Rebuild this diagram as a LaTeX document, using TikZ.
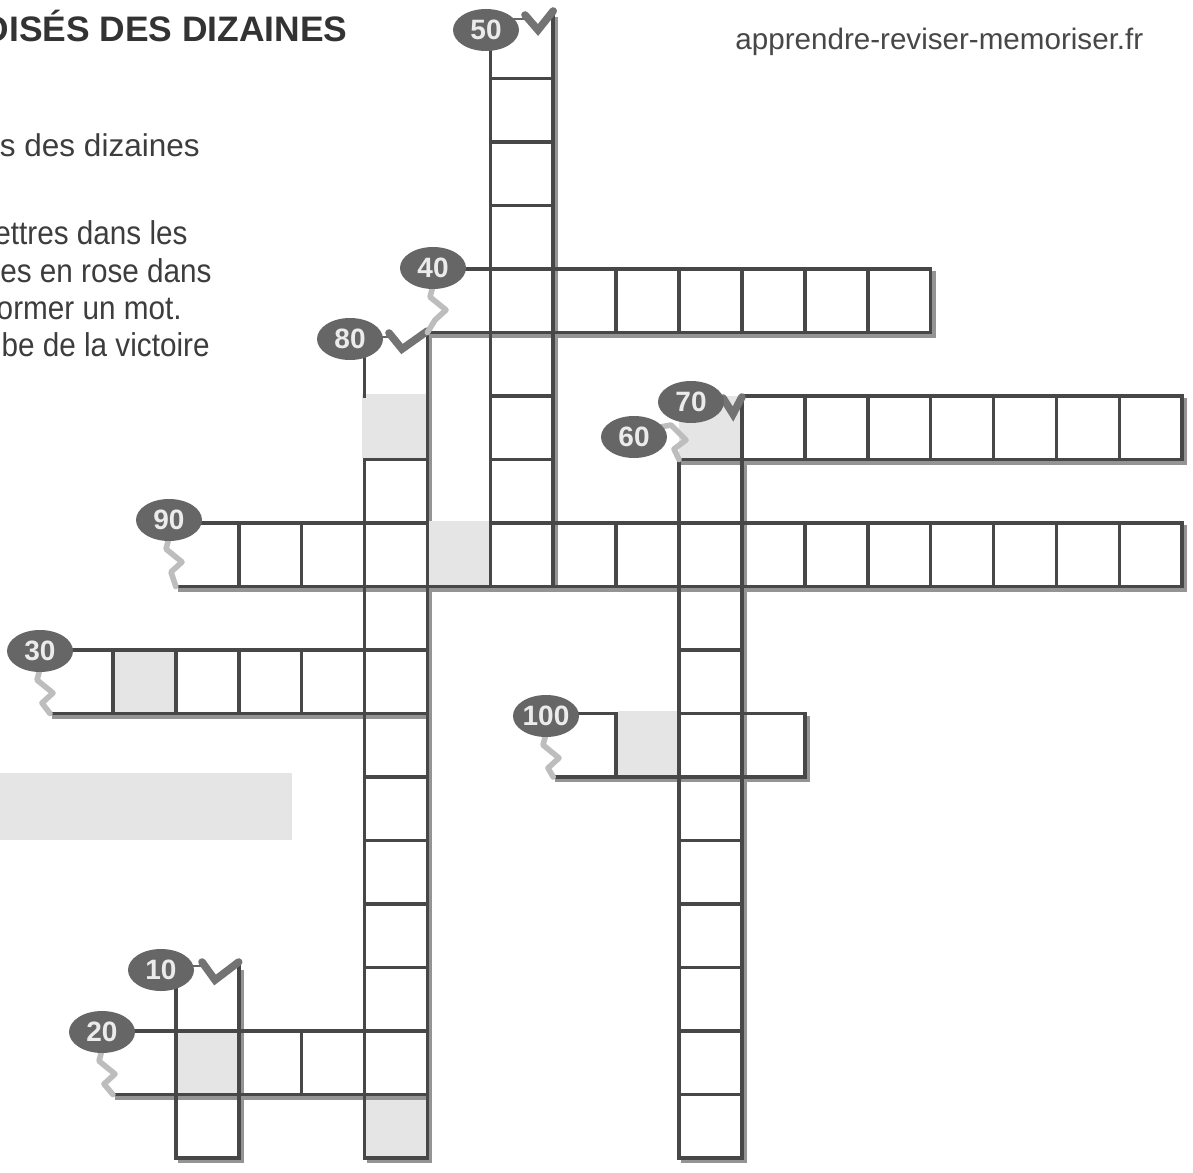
\documentclass[tikz,border=0pt]{standalone}
\usepackage{fontspec}
\setmainfont{Liberation Sans}
\newfontfamily\narrowsans[FakeStretch=0.9]{Liberation Sans}
\usetikzlibrary{shapes.geometric}
\tikzset{
  gl/.style={line width=1.8pt, draw=black!72, line cap=rect},
  shd/.style={line width=3pt, draw=black!42},
  bub/.style={ellipse, fill=black!60, minimum width=33pt, minimum height=21pt, inner sep=0pt, text=black!8, font=\fontsize{14}{14}\selectfont\bfseries},
  zz/.style={line width=2.8pt, draw=black!26, line join=round, line cap=round},
  vv/.style={line width=3.8pt, draw=black!55, line join=miter, line cap=round},
  tl/.style={line width=1.2pt, draw=black!60},
  pk/.style={fill=black!10},
  txt/.style={inner sep=0pt, text=black!76},
  bodytxt/.style={txt, anchor=base east, font=\narrowsans\fontsize{16.5}{19}\selectfont},
}
\begin{document}
\begin{tikzpicture}[x=0.5pt,y=-0.5pt]
\useasboundingbox (0,0) rectangle (1193,1172);
\fill[white] (0,0) rectangle (1193,1172);
% answer box
\fill[black!10] (0,773) rectangle (292,840);
% texts
\node[txt, anchor=base east, text=black!80, font=\fontsize{17.7}{20}\selectfont\bfseries] (title) at (348,42) {OISÉS DES DIZAINES};
\node[txt, anchor=base east, font=\fontsize{15.75}{18}\selectfont] (l1) at (200,156) {s des dizaines};
\node[bodytxt] (l2) at (188,244) {ettres dans les};
\node[bodytxt] (l3) at (212,282) {es en rose dans};
\node[bodytxt] (l4) at (182,319) {ormer un mot.};
\node[bodytxt] (l5) at (210,356) {be de la victoire};
\node[txt, anchor=base west, text=black!72, font=\fontsize{14.8}{17}\selectfont] (site) at (735,50) {apprendre-reviser-memoriser.fr};

% grid
\begin{scope}[shift={(50,15)},x=31.45pt,y=-31.75pt]
  % shaded cells under lines
  \fill[pk] (1,10) rectangle (2,11);
  \fill[pk] (2,16) rectangle (3,17);
  \fill[pk] (5,17) rectangle (6,18);
  \fill[pk] (10,6) rectangle (11,7);
  % shadows
  \begin{scope}[xshift=1pt,yshift=-1pt]
    \draw[shd] (8,0) -- (8,9);
    \draw[shd] (14,4) -- (14,5) -- (6,5);
    \draw[shd] (6,5) -- (6,18) -- (5,18);
    \draw[shd] (11,7) -- (11,18) -- (10,18);
    \draw[shd] (18,6) -- (18,7) -- (10,7);
    \draw[shd] (18,8) -- (18,9) -- (2,9);
    \draw[shd] (6,11) -- (0,11);
    \draw[shd] (12,11) -- (12,12) -- (8,12);
    \draw[shd] (6,17) -- (1,17);
    \draw[shd] (3,15) -- (3,18) -- (2,18);
  \end{scope}
  % cells
  \foreach \j in {1,...,8} {\draw[gl] (7,\j) rectangle ++(1,1);}
  \foreach \i in {7,...,13} {\draw[gl] (\i,4) rectangle ++(1,1);}
  \foreach \j in {6,...,17} {\draw[gl] (5,\j) rectangle ++(1,1);}
  \foreach \j in {7,...,17} {\draw[gl] (10,\j) rectangle ++(1,1);}
  \foreach \i in {11,...,17} {\draw[gl] (\i,6) rectangle ++(1,1);}
  \foreach \i in {3,...,17} {\draw[gl] (\i,8) rectangle ++(1,1);}
  \foreach \i in {1,...,5} {\draw[gl] (\i,10) rectangle ++(1,1);}
  \foreach \i in {9,...,11} {\draw[gl] (\i,11) rectangle ++(1,1);}
  \foreach \i in {2,...,5} {\draw[gl] (\i,16) rectangle ++(1,1);}
  \draw[gl] (2,17) rectangle ++(1,1);
  % bottoms of first cells of across words
  \draw[gl] (6,5) -- (7,5);
  \draw[gl] (2,9) -- (3,9);
  \draw[gl] (0,11) -- (1,11);
  \draw[gl] (8,12) -- (9,12);
  \draw[gl] (1,17) -- (2,17);
  % shaded cells drawn over part of their borders
  \fill[pk] ([xshift=-1.1pt,yshift=1.1pt]5,6) rectangle ([xshift=-0.9pt,yshift=0.9pt]6,7);
  \fill[pk] ([xshift=0.9pt,yshift=1.1pt]6,8) rectangle ([xshift=-0.9pt,yshift=0.9pt]7,9);
  \fill[pk] ([xshift=0.9pt,yshift=1.1pt]9,11) rectangle ([xshift=-0.9pt,yshift=0.9pt]10,12);
\end{scope}

% bubble centres
\coordinate (c50) at (486,30);
\coordinate (c40) at (433,268);
\coordinate (c80) at (350,339);
\coordinate (c70) at (691,402);
\coordinate (c60) at (634,437);
\coordinate (c90) at (169,520);
\coordinate (c30) at (40,651);
\coordinate (c100) at (546,716);
\coordinate (c10) at (161,970);
\coordinate (c20) at (102,1032);

% open first cells of down words
\draw[gl] (c50 -| 490.3,0) -- (490.3,78.5);
\draw[gl] (553.2,11) -- (553.2,78.5);
\draw[gl] (c80 -| 364.5,0) -- (364.5,396);
\draw[gl] (427.4,331) -- (427.4,396);
\draw[gl] (c10 -| 175.8,0) -- (175.8,1031);
\draw[gl] (238.7,962) -- (238.7,1031);
% open first cells of across words
\draw[gl] (c40 |- 0,269) -- (490.3,269);
\draw[gl] (c90 |- 0,523) -- (238.7,523);
\draw[gl] (c30 |- 0,650) -- (112.9,650);
\draw[gl] (c100 |- 0,713.5) -- (616.1,713.5);
\draw[gl] (c20 |- 0,1031) -- (175.8,1031);

% down arrows
\draw[tl] (500,19) -- (526,19);
\draw[vv] (525,15) -- (538,30) -- (553.2,11);
\draw[tl] (372,337) -- (391,337);
\draw[vv] (389,333) -- (402,349) -- (427.4,331);
\draw[tl] (712,401) -- (725,401);
\draw[vv] (723,398) -- (733,414) -- (741.9,397);
\draw[tl] (185,966) -- (204,966);
\draw[vv] (202,962) -- (215,980) -- (238.7,962);

% across arrows
\draw[zz] (c40) ++(0,18) -- ++(-3,11) -- ++(16,13) -- ++(-11,10) -- (427.4,332.5);
\draw[zz] (c90) ++(0,18) -- ++(-3,11) -- ++(16,13) -- ++(-11,10) -- (175.8,586.5);
\draw[zz] (c30) ++(0,18) -- ++(-3,11) -- ++(16,13) -- ++(-11,10) -- (50,713.5);
\draw[zz] (c100) ++(0,18) -- ++(-3,11) -- ++(16,13) -- ++(-11,10) -- (553.2,777);
\draw[zz] (c20) ++(0,18) -- ++(-3,11) -- ++(16,13) -- ++(-11,10) -- (112.9,1094.5);
\draw[zz] (655,428) -- (671,425) -- (686,440) -- (674,449) -- (679,459.5);

% bubbles
\node[bub] (b50) at (c50) {50};
\node[bub] (b40) at (c40) {40};
\node[bub] (b80) at (c80) {80};
\node[bub] (b60) at (c60) {60};
\node[bub] (b70) at (c70) {70};
\node[bub] (b90) at (c90) {90};
\node[bub] (b30) at (c30) {30};
\node[bub] (b100) at (c100) {100};
\node[bub] (b10) at (c10) {10};
\node[bub] (b20) at (c20) {20};
\end{tikzpicture}
\end{document}
